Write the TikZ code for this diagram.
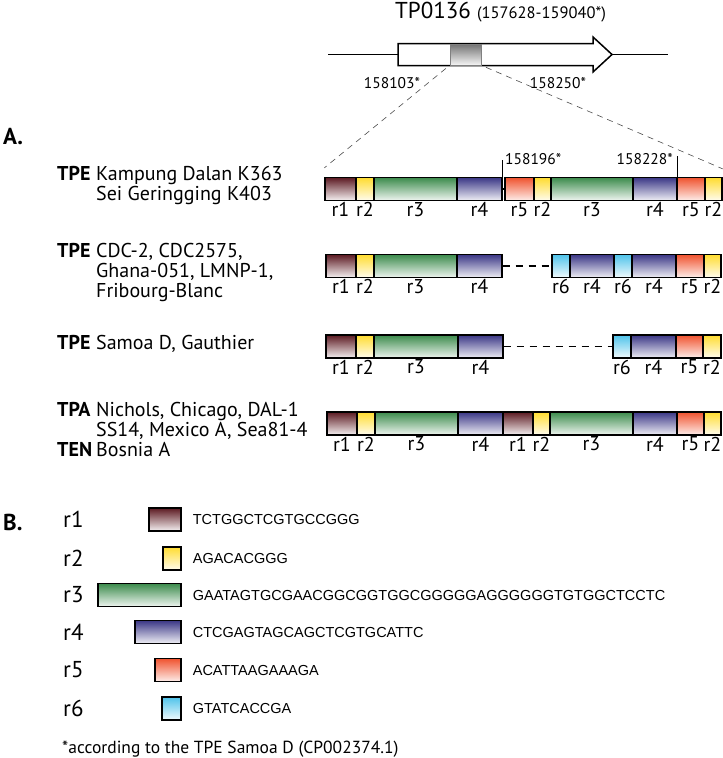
\documentclass[tikz,border=0pt]{standalone}
\usepackage{fontspec}
\setmainfont{PT Sans}
\newfontfamily\seqfont{Liberation Sans}
\usepackage{xcolor}
\usetikzlibrary{positioning}
\definecolor{rone}{HTML}{5C1A22}
\definecolor{rtwo}{HTML}{FFDC30}
\definecolor{rthree}{HTML}{3C8B4C}
\definecolor{rfour}{HTML}{3B3786}
\definecolor{rfive}{HTML}{F0532F}
\definecolor{rsix}{HTML}{4FC3EA}

\begin{document}
\begin{tikzpicture}[x=1pt, y=-1pt,
        seg/.style={draw, line width=1.3pt, inner sep=0pt, minimum height=23pt, label distance=4pt},
        rlab/.style={font=\fontsize{20}{20}\selectfont, inner sep=1pt},
        r1/.style={top color=rone, bottom color=rone!6},
        r2/.style={top color=rtwo, bottom color=rtwo!8},
        r3/.style={top color=rthree, bottom color=rthree!8},
        r4/.style={top color=rfour, bottom color=rfour!8},
        r5/.style={top color=rfive, bottom color=rfive!10},
        r6/.style={top color=rsix, bottom color=rsix!8},
        strain/.style={anchor=west, inner sep=0pt, font=\fontsize{20}{19.5}\selectfont},
        coord/.style={inner sep=0pt, font=\fontsize{15.5}{15.5}\selectfont},
        zoomline/.style={gray!60!black, line width=0.6pt, dash pattern=on 6pt off 5pt},
        gapline/.style={line width=1.4pt, dash pattern=on 7pt off 6pt},
        tick/.style={line width=0.5pt},
        panel/.style={anchor=west, inner sep=0pt, font=\fontsize{23}{23}\selectfont\bfseries},
        keylab/.style={anchor=west, inner sep=0pt, font=\fontsize{23}{23}\selectfont},
        seqtxt/.style={inner sep=0pt, font=\seqfont\fontsize{14.5}{15}\selectfont}
    ]
    \useasboundingbox (0,0) rectangle (723,758);

    \node[anchor=base west, inner sep=0pt, font=\fontsize{23}{23}\selectfont] (title) at (395,18) {TP0136 {\fontsize{16.5}{16.5}\selectfont(157628-159040*)}};
    \draw[line width=0.8pt] (328,54.5) -- (398,54.5);
    \draw[line width=0.8pt] (612,54.5) -- (668,54.5);
    \draw[line width=1.5pt, fill=white] (398,43.5) -- (593,43.5) -- (593,37) -- (612,54.5) -- (593,72) -- (593,65.5) -- (398,65.5) -- cycle;
    \node[draw=gray, line width=0.6pt, top color=black!55, bottom color=black!4, minimum width=31pt, minimum height=21pt, inner sep=0pt] (hl) at (465.5,54.5) {};
    \node[coord] (p1) at (392,83) {158103*};
    \node[coord] (p2) at (558,83) {158250*};

    \node[panel] (A) at (3,137) {A.};

    \node[strain] (s1) at (57,186) {\begin{tabular}{@{}p{39pt}@{}l@{}}\textbf{TPE} & Kampung Dalan K363\\ & Sei Geringging K403\end{tabular}};
    \foreach \s/\e/\t [count=\i] in {325/356/1, 356/374/2, 374/457/3, 457/502/4, 505/534/5, 534/551/2, 551/633/3, 633/677/4, 677/705/5, 705/722/2}
        \node[seg, r\t, minimum width=\e-\s, label={[rlab]below:r\t}] (a\i) at ({(\s+\e)/2},189) {};
    \draw[line width=1.3pt] (a4.east) -- (a5.west);
    \draw[tick] (a4.north east) -- ++(0,-17);
    \draw[tick] (a8.north east) -- ++(0,-21);
    \node[coord, anchor=west] (p3) at (505,159) {158196*};
    \node[coord, anchor=east] (p4) at (673,159) {158228*};
    \draw[zoomline, shorten <=5pt] (hl.south west) -- ([yshift=9pt]a1.north west);
    \draw[zoomline, shorten <=5pt] (hl.south east) -- ([yshift=8pt]a10.north east);

    \node[strain] (s2) at (57,273) {\begin{tabular}{@{}p{39pt}@{}l@{}}\textbf{TPE} & CDC-2, CDC2575,\\ & Ghana-051, LMNP-1,\\ & Fribourg-Blanc\end{tabular}};
    \foreach \s/\e/\t [count=\i] in {326/356/1, 356/374/2, 374/457/3, 457/502/4, 552/570/6, 570/614/4, 614/632/6, 632/676/4, 676/704/5, 704/721/2}
        \node[seg, r\t, minimum width=\e-\s, label={[rlab]below:r\t}] (b\i) at ({(\s+\e)/2},266) {};
    \draw[gapline] (b4.east) -- (b5.west);

    \node[strain] (s3) at (57,345) {\begin{tabular}{@{}p{39pt}@{}l@{}}\textbf{TPE} & Samoa D, Gauthier\end{tabular}};
    \foreach \s/\e/\t [count=\i] in {326/356/1, 356/374/2, 374/458/3, 458/503/4, 613/631/6, 631/676/4, 676/703/5, 703/721/2}
        \node[seg, r\t, minimum width=\e-\s, label={[rlab]below:r\t}] (c\i) at ({(\s+\e)/2},346.5) {};
    \draw[gapline] (c4.east) -- (c5.west);

    \node[strain] (s4) at (57,432) {\begin{tabular}{@{}p{39pt}@{}l@{}}\textbf{TPA} & Nichols, Chicago, DAL-1\\ & SS14, Mexico A, Sea81-4\\ \textbf{TEN} & Bosnia A\end{tabular}};
    \foreach \s/\e/\t [count=\i] in {327/357/1, 357/375/2, 375/458/3, 458/503/4, 503/533/1, 533/550/2, 550/633/3, 633/677/4, 677/704/5, 704/721/2}
        \node[seg, r\t, minimum width=\e-\s, label={[rlab]below:r\t}] (d\i) at ({(\s+\e)/2},423.5) {};

    \node[panel] (B) at (3,522) {B.};
    \foreach \t/\s/\y/\q in {1/149/519.5/TCTGGCTCGTGCCGGG, 2/163/558.5/AGACACGGG, 3/98/595/GAATAGTGCGAACGGCGGTGGCGGGGGAGGGGGGTGTGGCTCCTC, 4/135/632/CTCGAGTAGCAGCTCGTGCATTC, 5/155/670/ACATTAAGAAAGA, 6/162/708.5/GTATCACCGA} {
        \node[keylab] (k\t) at (63,\y) {r\t};
        \node[seg, r\t, minimum width=181-\s] (kb\t) at ({(\s+181)/2},\y) {};
        \node[seqtxt, right=11pt of kb\t] (ks\t) {\q};
    }

    \node[anchor=west, inner sep=0pt, font=\fontsize{17.5}{18}\selectfont] (note) at (62,749) {*according to the TPE Samoa D (CP002374.1)};
\end{tikzpicture}
\end{document}
